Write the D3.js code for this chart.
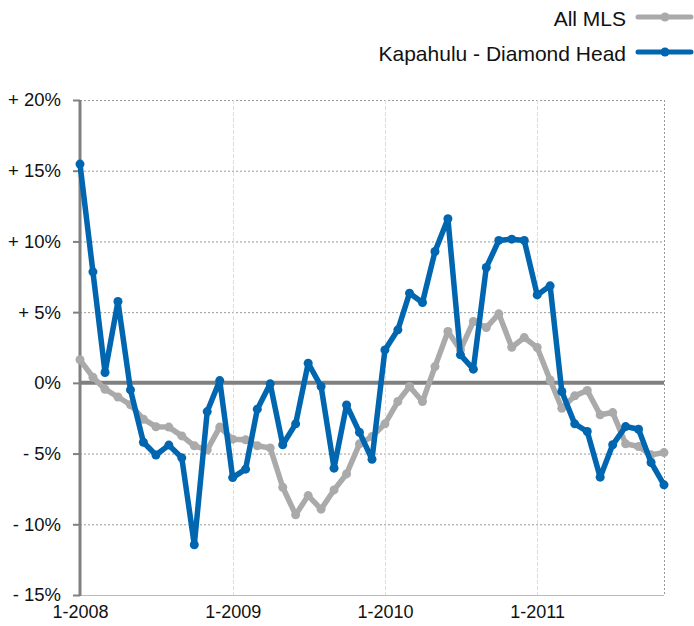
<!DOCTYPE html>
<html>
<head>
<meta charset="utf-8">
<script src="https://cdn.jsdelivr.net/npm/d3@7"></script>
<style>
  body { margin: 0; background: #fff; }
  svg { display: block; font-family: "Liberation Sans", Arial, Helvetica, sans-serif; }
</style>
</head>
<body>
<div id="chart"></div>
<script>
// monthly values, Jan 2008 .. Nov 2011 (percent change)
const startMonth = "2008-01";
const allMLS = [
  1.63, 0.4, -0.45, -1.0, -1.55, -2.57, -3.1, -3.13, -3.75, -4.45, -4.74, -3.13,
  -3.98, -4.03, -4.45, -4.6, -7.38, -9.33, -7.97, -8.93, -7.57, -6.44, -4.31, -3.8,
  -2.9, -1.32, -0.26, -1.32, 1.15, 3.63, 2.33, 4.34, 3.91, 4.88, 2.52, 3.2,
  2.5, 0.2, -1.8, -0.92, -0.54, -2.26, -2.1, -4.31, -4.5, -5.09, -4.93
];
const kapahulu = [
  15.47, 7.85, 0.73, 5.75, -0.5, -4.2, -5.1, -4.4, -5.3, -11.45, -2.03, 0.16,
  -6.7, -6.1, -1.86, -0.07, -4.38, -2.9, 1.39, -0.26, -6.03, -1.56, -3.5, -5.4,
  2.33, 3.75, 6.34, 5.68, 9.29, 11.6, 1.98, 0.97, 8.16, 10.07, 10.16, 10.07,
  6.22, 6.86, -0.61, -2.9, -3.44, -6.67, -4.38, -3.09, -3.28, -5.63, -7.21
];
const seriesNames = ["All MLS", "Kapahulu - Diamond Head"];
const seriesColors = ["#aaaaaa", "#0066b0"];
const yTicks = [-15, -10, -5, 0, 5, 10, 15, 20];
const xTickLabels = ["1-2008", "1-2009", "1-2010", "1-2011"];

const parseMonth = d3.timeParse("%Y-%m");
const months = d3.range(allMLS.length).map(i => d3.timeMonth.offset(parseMonth(startMonth), i));
const xTickDates = xTickLabels.map(s => d3.timeParse("%m-%Y")(s));

const W = 694, H = 626;
const margin = { top: 100, right: 30, bottom: 31, left: 80 };

const svg = d3.select("#chart").append("svg")
  .attr("width", W)
  .attr("height", H);

const x = d3.scaleTime()
  .domain([months[0], months[months.length - 1]])
  .range([margin.left, 664]);

const y = d3.scaleLinear()
  .domain([-15, 20])
  .range([H - margin.bottom, margin.top]);

// horizontal grid (dotted)
svg.append("g")
  .selectAll("line")
  .data(yTicks.filter(d => d !== 0))
  .join("line")
    .attr("x1", x.range()[0])
    .attr("x2", x.range()[1])
    .attr("y1", d => y(d) + 0.5)
    .attr("y2", d => y(d) + 0.5)
    .attr("stroke", d => d === -15 ? "#bbbbbb" : "#999999")
    .attr("stroke-width", 1)
    .attr("stroke-dasharray", d => d === -15 ? null : "2,2");

// vertical grid at years
svg.append("g")
  .selectAll("line")
  .data(xTickDates.slice(1))
  .join("line")
    .attr("x1", d => Math.round(x(d)) + 0.5)
    .attr("x2", d => Math.round(x(d)) + 0.5)
    .attr("y1", y(20))
    .attr("y2", y(-15))
    .attr("stroke", "#dddddd")
    .attr("stroke-dasharray", "4,2");

// right border
svg.append("line")
  .attr("x1", x.range()[1] + 0.5)
  .attr("x2", x.range()[1] + 0.5)
  .attr("y1", y(20))
  .attr("y2", y(-15))
  .attr("stroke", "#999999")
  .attr("stroke-dasharray", "2,2");

// zero line
svg.append("line")
  .attr("x1", x.range()[0])
  .attr("x2", x.range()[1])
  .attr("y1", y(0))
  .attr("y2", y(0))
  .attr("stroke", "#808080")
  .attr("stroke-width", 4);

// y axis
const yAxis = svg.append("g")
  .attr("transform", `translate(${margin.left},0)`)
  .call(d3.axisLeft(y)
    .tickValues(yTicks)
    .tickSize(7)
    .tickPadding(12)
    .tickFormat(d => (d > 0 ? "+ " : d < 0 ? "- " : "") + Math.abs(d) + "%"));
yAxis.select(".domain")
  .attr("stroke", "#808080")
  .attr("stroke-width", 3)
  .attr("d", `M0,${y(20)}V${y(-15) + 1}`);
yAxis.selectAll(".tick line").attr("stroke", "#808080").attr("stroke-width", 2);
yAxis.selectAll(".tick text")
  .attr("fill", "#111")
  .style("font-size", "18.5px")
  .style("font-family", "'Liberation Sans', Arial, sans-serif");

// x axis labels
const xAxis = svg.append("g")
  .attr("transform", `translate(0,${y(-15)})`)
  .call(d3.axisBottom(x)
    .tickValues(xTickDates)
    .tickSize(0)
    .tickPadding(10)
    .tickFormat((d, i) => xTickLabels[i]));
xAxis.select(".domain").remove();
xAxis.selectAll(".tick text")
  .attr("fill", "#111")
  .style("font-size", "18px")
  .style("font-family", "'Liberation Sans', Arial, sans-serif");

// series
const line = d3.line()
  .x((d, i) => x(months[i]))
  .y(d => y(d));

[allMLS, kapahulu].forEach((data, k) => {
  const g = svg.append("g");
  g.append("path")
    .datum(data)
    .attr("fill", "none")
    .attr("stroke", seriesColors[k])
    .attr("stroke-width", 5.5)
    .attr("stroke-linejoin", "round")
    .attr("d", line);
  g.selectAll("circle")
    .data(data)
    .join("circle")
      .attr("cx", (d, i) => x(months[i]))
      .attr("cy", d => y(d))
      .attr("r", 4.5)
      .attr("fill", seriesColors[k]);
});

// legend
const legend = svg.append("g");
const legendY = [18, 53];
seriesNames.forEach((name, k) => {
  legend.append("text")
    .attr("x", 626)
    .attr("y", legendY[k])
    .attr("dy", "0.36em")
    .attr("text-anchor", "end")
    .attr("fill", "#111")
    .style("font-size", "21px")
    .text(name);
  legend.append("line")
    .attr("x1", 638).attr("x2", 691)
    .attr("y1", legendY[k] - 1).attr("y2", legendY[k] - 1)
    .attr("stroke", seriesColors[k])
    .attr("stroke-width", 5)
    .attr("stroke-linecap", "round");
  legend.append("circle")
    .attr("cx", 665)
    .attr("cy", legendY[k] - 1)
    .attr("r", 4.5)
    .attr("fill", seriesColors[k]);
});
</script>
</body>
</html>
